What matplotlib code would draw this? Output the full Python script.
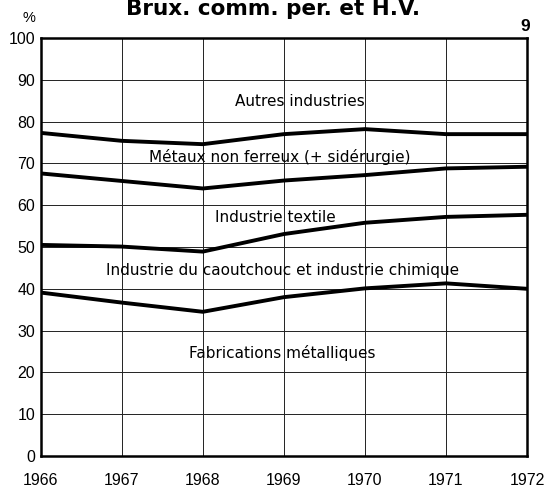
import matplotlib
matplotlib.use('Agg')
import matplotlib.pyplot as plt
import numpy as np

years = [1966, 1967, 1968, 1969, 1970, 1971, 1972]
# cumulative boundaries between sectors (%)
fabr_top = [39.1, 36.7, 34.5, 38.0, 40.1, 41.3, 40.0]
caout_top = [50.5, 50.1, 48.9, 53.1, 55.8, 57.2, 57.7]
textile_top = [67.6, 65.8, 64.0, 65.9, 67.2, 68.8, 69.2]
metaux_top = [77.3, 75.4, 74.6, 77.0, 78.2, 77.0, 77.0]

labels = ['Autres industries', 'Métaux non ferreux (+ sidérurgie)', 'Industrie textile',
          'Industrie du caoutchouc et industrie chimique', 'Fabrications métalliques']
label_x = [1969.2, 1968.95, 1968.89, 1968.98, 1968.98]
label_y = [84.7, 71.6, 57.1, 44.3, 24.6]

plt.rcParams['font.family'] = ['Liberation Sans', 'DejaVu Sans']

fig = plt.figure(figsize=(5.48, 4.91), dpi=100)
ax = fig.add_axes([0.0743, 0.0713, 0.8874, 0.8513])

for s in [fabr_top, caout_top, textile_top, metaux_top]:
    ax.plot(years, s, color='black', lw=2.8, solid_joinstyle='miter', zorder=3)

for t, x, y in zip(labels, label_x, label_y):
    ax.text(x, y, t, ha='center', va='center', fontsize=11, family='DejaVu Sans', zorder=4)

ax.set_xlim(1966, 1972)
ax.set_ylim(0, 100)
ax.set_xticks(years)
ax.set_yticks(np.arange(0, 101, 10))
ax.grid(True, color='#222222', lw=0.7)
ax.tick_params(axis='both', length=0, labelsize=11.5)
ax.tick_params(axis='x', pad=12)
ax.tick_params(axis='y', pad=4)
for sp in ax.spines.values():
    sp.set_linewidth(1.8)

fig.text(0.498, 1 - 15 / 491, 'Brux. comm. per. et H.V.', ha='center', va='baseline',
         fontsize=15.5, fontweight='bold', family='DejaVu Sans')
fig.text(0.053, 1 - 22 / 491, '%', ha='center', va='baseline', fontsize=10.5)
fig.text(0.958, 1 - 31 / 491, '9', ha='center', va='baseline', fontsize=12.5, fontweight='bold')

plt.savefig('out.png', dpi=100)
